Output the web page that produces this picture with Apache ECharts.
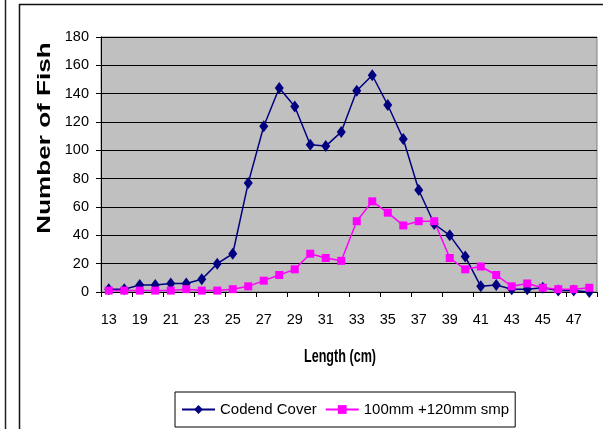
<!DOCTYPE html>
<html>
<head>
<meta charset="utf-8">
<script src="https://cdn.jsdelivr.net/npm/echarts@6/dist/echarts.min.js"></script>
<style>
html,body{margin:0;padding:0;background:#fff;}
#c{width:603px;height:429px;}
</style>
</head>
<body>
<div id="c"></div>
<script>
var categories = ['13','17','19','20','21','22','23','24','25','26','27','28','29','30','31','32','33','34','35','36','37','38','39','40','41','42','43','44','45','46','47','48'];
var codendCover = [2,2,5,5,6,6,9,20,27,77,117,144,131,104,103,113,142,153,132,108,72,48,40,25,4,5,2,2,3,1,1,0];
var smp100120 = [1,1,1,1,1,2,1,1,2,4,8,12,16,27,24,22,50,64,56,47,50,50,24,16,18,12,4,6,3,2,2,3];
var yTicks = {min:0, max:180, interval:20};

var FONT = "'Liberation Sans',Arial,sans-serif";
var chart = echarts.init(document.getElementById('c'), null, {renderer:'canvas'});
chart.setOption({
  backgroundColor:'#ffffff',
  animation:false,
  grid:{left:101,right:6,top:37,bottom:137,show:true,backgroundColor:'#c0c0c0',borderColor:'#808080',borderWidth:1},
  xAxis:{
    type:'category', data:categories, boundaryGap:true,
    axisLine:{show:true,lineStyle:{color:'#000',width:1}},
    axisTick:{show:true,interval:1,length:5,inside:false,lineStyle:{color:'#000'}},
    axisLabel:{interval:1,margin:20,color:'#000',fontFamily:FONT,fontSize:14.5},
    splitLine:{show:false}
  },
  yAxis:{
    type:'value', min:yTicks.min, max:yTicks.max, interval:yTicks.interval,
    axisLine:{show:true,lineStyle:{color:'#000',width:1}},
    axisTick:{show:true,length:5,lineStyle:{color:'#000'}},
    axisLabel:{margin:12,color:'#000',fontFamily:FONT,fontSize:14.5},
    splitLine:{show:true,lineStyle:{color:'#000',width:1}}
  },
  legend:{
    left:175, top:392, orient:'horizontal',
    borderColor:'#000', borderWidth:1, padding:[7,6,7,6],
    itemWidth:33, itemHeight:11, itemGap:8,
    textStyle:{color:'#000',fontFamily:FONT,fontSize:15,lineHeight:21},
    data:['Codend Cover','100mm +120mm smp']
  },
  graphic:[
    {type:'line',shape:{x1:5.5,y1:0,x2:5.5,y2:429},style:{stroke:'#222',lineWidth:1.5},silent:true},
    {type:'rect',shape:{x:19.5,y:4.5,width:620,height:460},style:{fill:null,stroke:'#111',lineWidth:1.5},silent:true},
    {type:'text',x:45,y:138,rotation:Math.PI/2,scaleX:1.45,
      style:{text:'Number of Fish',font:"bold 18px 'Liberation Sans', Arial, sans-serif",fill:'#000',align:'center',verticalAlign:'middle'}},
    {type:'text',x:340,y:357,scaleY:1.45,
      style:{text:'Length (cm)',font:"bold 12.6px 'Liberation Sans', Arial, sans-serif",fill:'#000',align:'center',verticalAlign:'middle'}}
  ],
  series:[
    {name:'Codend Cover',type:'line',data:codendCover,symbol:'diamond',symbolSize:[9,12],showAllSymbol:true,
      lineStyle:{color:'#000080',width:1.5},itemStyle:{color:'#000080'}},
    {name:'100mm +120mm smp',type:'line',data:smp100120,symbol:'rect',symbolSize:8,showAllSymbol:true,
      lineStyle:{color:'#ff00ff',width:1.5},itemStyle:{color:'#ff00ff'}}
  ]
});
</script>
</body>
</html>
